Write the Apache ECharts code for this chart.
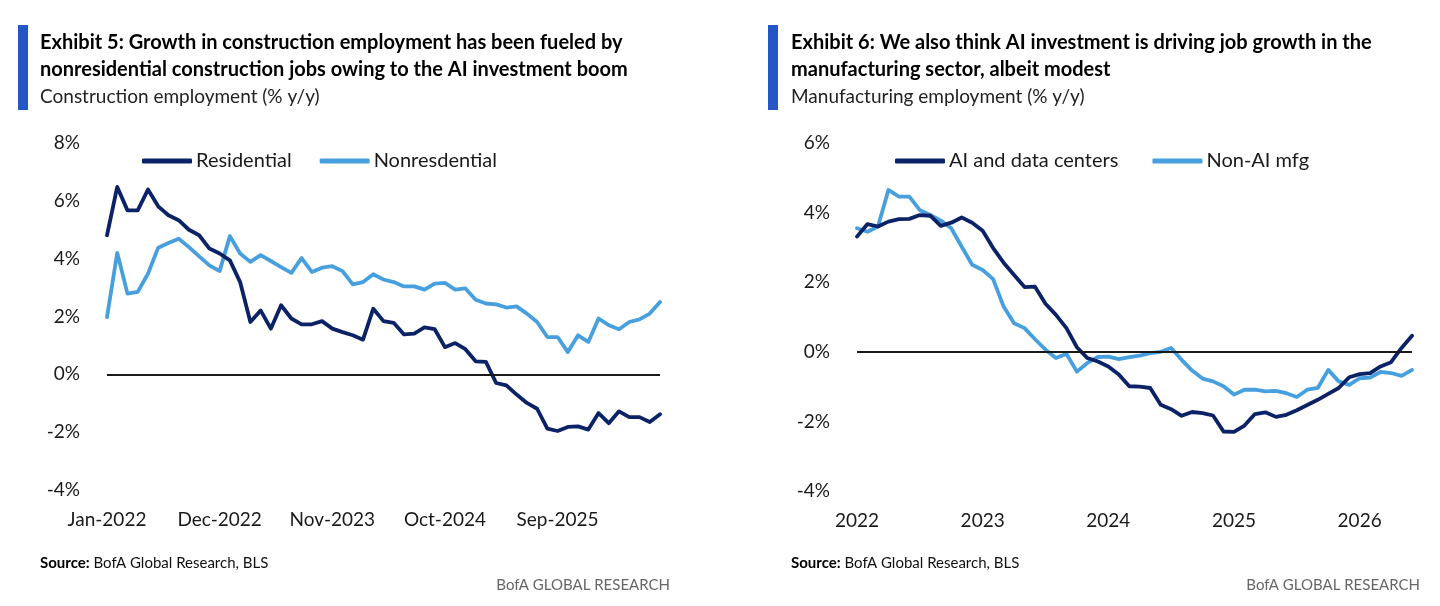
<!DOCTYPE html>
<html>
<head>
<meta charset="utf-8">
<script src="https://cdn.jsdelivr.net/npm/echarts@6/dist/echarts.min.js"></script>
<style>
html,body{margin:0;padding:0;background:#fff;}
#c{width:1440px;height:606px;}
</style>
</head>
<body>
<div id="c"></div>
<script>
// ---------- Data ----------
const monthNames = ['Jan','Feb','Mar','Apr','May','Jun','Jul','Aug','Sep','Oct','Nov','Dec'];
function monthLabels(startYear, count){
  const out=[];
  for(let i=0;i<count;i++){ out.push(monthNames[i%12]+'-'+(startYear+Math.floor(i/12))); }
  return out;
}
const constructionMonths = monthLabels(2022, 55);   // Jan-2022 .. Jul-2026
const manufacturingMonths = monthLabels(2022, 54);  // Jan-2022 .. Jun-2026

const residential = [4.81,6.48,5.67,5.67,6.39,5.81,5.50,5.33,5.00,4.81,
  4.35,4.18,3.94,3.19,1.81,2.21,1.58,2.39,1.93,1.73,
  1.73,1.84,1.58,1.46,1.35,1.20,2.27,1.84,1.78,1.38,
  1.41,1.62,1.56,0.94,1.08,0.87,0.45,0.43,-0.30,-0.38,
  -0.70,-0.99,-1.19,-1.88,-1.96,-1.82,-1.80,-1.91,-1.34,-1.69,
  -1.28,-1.48,-1.48,-1.65,-1.38];
const nonresidential = [1.98,4.20,2.79,2.85,3.48,4.38,4.54,4.69,4.40,4.08,
  3.77,3.57,4.78,4.18,3.89,4.12,3.92,3.71,3.51,4.02,
  3.54,3.69,3.74,3.57,3.11,3.19,3.46,3.28,3.19,3.04,
  3.04,2.93,3.14,3.16,2.93,2.97,2.58,2.45,2.42,2.31,
  2.35,2.10,1.81,1.29,1.29,0.77,1.35,1.12,1.93,1.70,
  1.56,1.81,1.90,2.10,2.50];

const aiDataCenters = [3.31,3.67,3.60,3.74,3.81,3.82,3.93,3.91,3.62,3.71,
  3.86,3.71,3.48,2.98,2.56,2.21,1.86,1.87,1.38,1.06,
  0.68,0.13,-0.18,-0.28,-0.42,-0.65,-0.99,-1.00,-1.04,-1.52,
  -1.65,-1.84,-1.73,-1.76,-1.83,-2.29,-2.30,-2.12,-1.79,-1.74,
  -1.87,-1.81,-1.68,-1.53,-1.38,-1.21,-1.04,-0.73,-0.64,-0.61,
  -0.42,-0.30,0.11,0.46];
const nonAiMfg = [3.55,3.45,3.60,4.65,4.46,4.46,4.07,3.93,3.77,3.55,
  3.02,2.50,2.35,2.09,1.30,0.82,0.68,0.36,0.06,-0.18,
  -0.06,-0.57,-0.32,-0.15,-0.14,-0.21,-0.15,-0.11,-0.04,0.00,
  0.11,-0.23,-0.54,-0.77,-0.85,-0.99,-1.23,-1.09,-1.09,-1.14,
  -1.12,-1.19,-1.30,-1.09,-1.04,-0.52,-0.85,-0.95,-0.76,-0.74,
  -0.58,-0.61,-0.69,-0.52];

const leftTicks = {min:-4, max:8, interval:2};
const rightTicks = {min:-4, max:6, interval:2};

// ---------- Styles ----------
const FONT = 'Lato, "Noto Sans", sans-serif';
const DARK = '#0c2266';
const LIGHT = '#47a0dd';
const BAR = '#2456c6';
const TXT = '#1a1a1a';

const chart = echarts.init(document.getElementById('c'), null, {renderer:'canvas'});

function zeroLine(){
  return {silent:true, symbol:'none', label:{show:false},
    lineStyle:{color:'#1a1a1a', width:1.8, type:'solid'},
    emphasis:{disabled:true}, data:[{yAxis:0}]};
}

function lineSeries(name, data, color, xi, withZero){
  const s = {name, type:'line', data, xAxisIndex:xi, yAxisIndex:xi,
    showSymbol:false, symbol:'none', smooth:false,
    lineStyle:{color, width:3.8, cap:'round', join:'round'},
    itemStyle:{color}, z: color===DARK?3:2, animation:false};
  if(withZero) s.markLine = zeroLine();
  return s;
}

const option = {
  animation:false,
  textStyle:{fontFamily:FONT},
  graphic:[
    {type:'rect', shape:{x:18,y:25,width:10,height:85}, style:{fill:BAR}},
    {type:'rect', shape:{x:768,y:25,width:10,height:85}, style:{fill:BAR}},
    {type:'text', x:40, y:33, style:{text:'Exhibit 5: Growth in construction employment has been fueled by', font:'bold 20px '+FONT, fill:'#000'}},
    {type:'text', x:40, y:60, style:{text:'nonresidential construction jobs owing to the AI investment boom', font:'bold 20px '+FONT, fill:'#000'}},
    {type:'text', x:40, y:87, style:{text:'Construction employment (% y/y)', font:'19px '+FONT, fill:'#222'}},
    {type:'text', x:791, y:33, style:{text:'Exhibit 6: We also think AI investment is driving job growth in the', font:'bold 20px '+FONT, fill:'#000'}},
    {type:'text', x:791, y:60, style:{text:'manufacturing sector, albeit modest', font:'bold 20px '+FONT, fill:'#000'}},
    {type:'text', x:791, y:87, style:{text:'Manufacturing employment (% y/y)', font:'19px '+FONT, fill:'#222'}},
    {type:'text', x:40, y:556, style:{text:'{b|Source:} BofA Global Research, BLS', rich:{b:{font:'bold 15px '+FONT, fill:'#000'}}, font:'15px '+FONT, fill:'#111'}},
    {type:'text', x:791, y:556, style:{text:'{b|Source:} BofA Global Research, BLS', rich:{b:{font:'bold 15px '+FONT, fill:'#000'}}, font:'15px '+FONT, fill:'#111'}},
    {type:'text', x:670, y:578, style:{text:'BofA GLOBAL RESEARCH', font:'15px '+FONT, fill:'#666', align:'right'}},
    {type:'text', x:1420, y:578, style:{text:'BofA GLOBAL RESEARCH', font:'15px '+FONT, fill:'#666', align:'right'}}
  ],
  legend:[
    {left:137, top:146, itemWidth:50, itemHeight:5, itemGap:28, icon:'roundRect',
     data:['Residential','Nonresdential'],
     textStyle:{fontSize:20, color:TXT, fontFamily:FONT, padding:[0,0,0,-1]}},
    {left:890, top:146, itemWidth:50, itemHeight:5, itemGap:34, icon:'roundRect',
     data:['AI and data centers','Non-AI mfg'],
     textStyle:{fontSize:20, color:TXT, fontFamily:FONT, padding:[0,0,0,-1]}}
  ],
  grid:[
    {left:107, top:143, width:553, height:347, containLabel:false},
    {left:857, top:143, width:555, height:348, containLabel:false}
  ],
  xAxis:[
    {type:'category', gridIndex:0, data:constructionMonths, boundaryGap:false,
     axisLine:{show:false}, axisTick:{show:false}, splitLine:{show:false},
     axisLabel:{interval:10, fontSize:19, color:TXT, margin:20, fontFamily:FONT}},
    {type:'category', gridIndex:1, data:manufacturingMonths, boundaryGap:false,
     axisLine:{show:false}, axisTick:{show:false}, splitLine:{show:false},
     axisLabel:{interval:11, fontSize:19, color:TXT, margin:20, fontFamily:FONT,
       formatter:v=>v.split('-')[1]}}
  ],
  yAxis:[
    {type:'value', gridIndex:0, min:leftTicks.min, max:leftTicks.max, interval:leftTicks.interval,
     axisLine:{show:false}, axisTick:{show:false}, splitLine:{show:false},
     axisLabel:{formatter:'{value}%', fontSize:19, color:TXT, margin:27, fontFamily:FONT}},
    {type:'value', gridIndex:1, min:rightTicks.min, max:rightTicks.max, interval:rightTicks.interval,
     axisLine:{show:false}, axisTick:{show:false}, splitLine:{show:false},
     axisLabel:{formatter:'{value}%', fontSize:19, color:TXT, margin:27, fontFamily:FONT}}
  ],
  series:[
    lineSeries('Residential', residential, DARK, 0, true),
    lineSeries('Nonresdential', nonresidential, LIGHT, 0, false),
    lineSeries('AI and data centers', aiDataCenters, DARK, 1, true),
    lineSeries('Non-AI mfg', nonAiMfg, LIGHT, 1, false)
  ]
};
chart.setOption(option);
</script>
</body>
</html>
